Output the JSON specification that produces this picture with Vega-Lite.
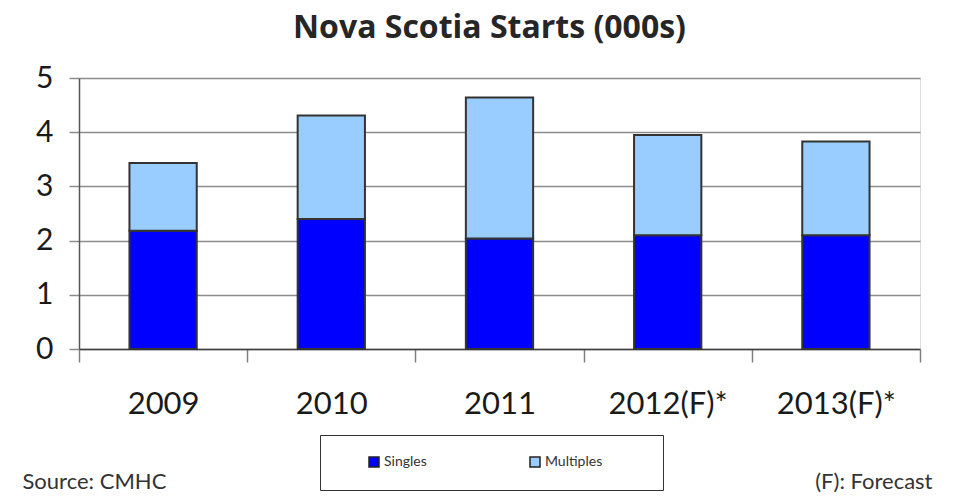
{
  "$schema": "https://vega.github.io/schema/vega-lite/v6.json",
  "autosize": "none",
  "width": 841,
  "height": 271,
  "padding": {"left": 79, "top": 78, "right": 41, "bottom": 148},
  "background": "white",
  "title": {
    "text": "Nova Scotia Starts (000s)",
    "font": "Open Sans",
    "fontSize": 32,
    "fontWeight": "bold",
    "color": "#262626",
    "anchor": "middle",
    "frame": "group",
    "baseline": "alphabetic",
    "offset": 38,
    "dx": -10,
    "dy": 45
  },
  "data": {
    "values": [
      {"year": "2009", "type": "Singles", "value": 2.18},
      {"year": "2009", "type": "Multiples", "value": 1.25},
      {"year": "2010", "type": "Singles", "value": 2.40},
      {"year": "2010", "type": "Multiples", "value": 1.91},
      {"year": "2011", "type": "Singles", "value": 2.04},
      {"year": "2011", "type": "Multiples", "value": 2.60},
      {"year": "2012(F)*", "type": "Singles", "value": 2.10},
      {"year": "2012(F)*", "type": "Multiples", "value": 1.85},
      {"year": "2013(F)*", "type": "Singles", "value": 2.10},
      {"year": "2013(F)*", "type": "Multiples", "value": 1.73}
    ]
  },
  "resolve": {"axis": {"x": "independent"}},
  "layer": [
    {
      "mark": {"type": "bar", "stroke": "#333333", "strokeWidth": 2},
      "encoding": {
        "x": {
          "field": "year",
          "type": "nominal",
          "sort": null,
          "scale": {"paddingInner": 0.6, "paddingOuter": 0.3},
          "axis": {
            "orient": "bottom",
            "labelAngle": 0,
            "labelFont": "Lato",
            "labelFontSize": 31,
            "labelColor": "#1a1a1a",
            "labelPadding": 27,
            "tickOffset": -84.1,
            "labelOffset": 84.1,
            "tickSize": 13,
            "tickColor": "#808080",
            "tickWidth": 1.5,
            "domainColor": "#404040",
            "domainWidth": 1.5,
            "grid": false,
            "title": "Source: CMHC",
            "titleFont": "Lato",
            "titleFontSize": 22,
            "titleFontWeight": "normal",
            "titleColor": "#333333",
            "titleAnchor": "start",
            "titleAlign": "left",
            "titleBaseline": "alphabetic",
            "titleX": -57,
            "titleY": 139
          }
        },
        "y": {
          "field": "value",
          "type": "quantitative",
          "stack": "zero",
          "scale": {"domain": [0, 5]},
          "axis": {
            "values": [0, 1, 2, 3, 4, 5],
            "labelFont": "Lato",
            "labelFontSize": 30,
            "labelColor": "#1a1a1a",
            "labelPadding": 16,
            "tickSize": 10,
            "tickColor": "#8c8c8c",
            "tickWidth": 1.5,
            "gridColor": "#8c8c8c",
            "gridWidth": 1.5,
            "domainColor": "#555555",
            "domainWidth": 1.5,
            "title": "(F): Forecast",
            "titleFont": "Lato",
            "titleFontSize": 22,
            "titleFontWeight": "normal",
            "titleColor": "#333333",
            "titleAngle": 0,
            "titleAlign": "right",
            "titleBaseline": "alphabetic",
            "titleX": 853,
            "titleY": 410
          }
        },
        "color": {
          "field": "type",
          "type": "nominal",
          "scale": {"domain": ["Singles", "Multiples"], "range": ["#0000FF", "#99CCFF"]},
          "legend": {
            "orient": "none",
            "legendX": 241,
            "legendY": 357,
            "direction": "horizontal",
            "title": " ",
            "titleOrient": "left",
            "titleFontSize": 4,
            "titlePadding": 27,
            "symbolType": "square",
            "symbolSize": 100,
            "symbolStrokeColor": "#222222",
            "symbolStrokeWidth": 1.5,
            "labelFont": "Lato",
            "labelFontSize": 14,
            "labelColor": "#333333",
            "labelOffset": 3,
            "labelExpr": "datum.label == 'Multiples' ? datum.label + '\u2800\u2800\u2800\u2800' : datum.label",
            "columnPadding": 100,
            "padding": 20,
            "strokeColor": "#333333",
            "fillColor": "white"
          }
        },
        "order": {"field": "type", "sort": "descending"}
      }
    },
    {
      "mark": {"type": "point", "opacity": 0},
      "encoding": {
        "x": {
          "field": "year",
          "type": "nominal",
          "sort": null,
          "axis": {
            "orient": "bottom",
            "values": ["2013(F)*"],
            "labels": false,
            "domain": false,
            "grid": false,
            "title": null,
            "tickOffset": 84.1,
            "tickSize": 13,
            "tickColor": "#808080",
            "tickWidth": 1.5
          }
        }
      }
    }
  ]
}
